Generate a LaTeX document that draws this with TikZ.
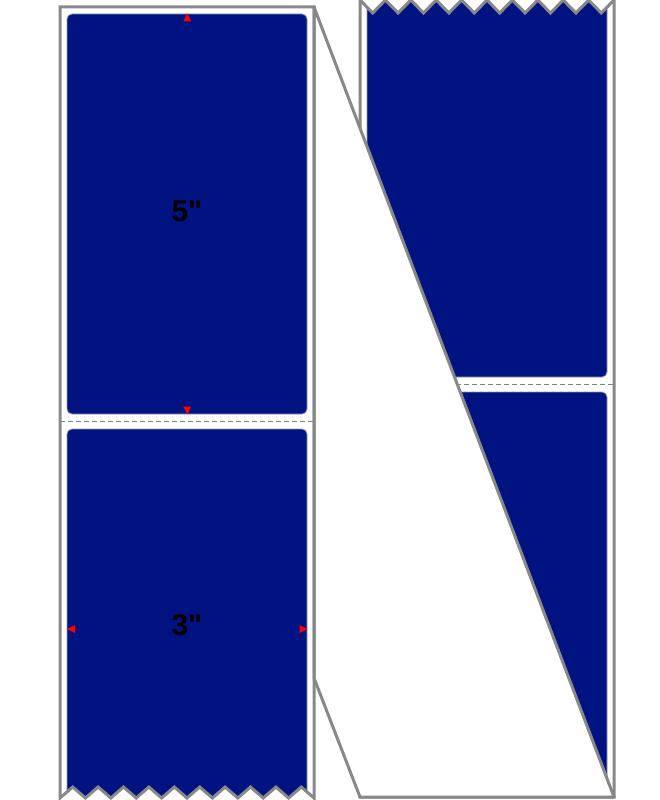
\documentclass[tikz,border=0pt]{standalone}
\usepackage{fontspec}
\setmainfont{Liberation Sans}
\newfontfamily\dimfont{Liberation Sans}
\definecolor{lblue}{RGB}{0,19,128}
\definecolor{liner}{RGB}{136,136,136}
\definecolor{edgegray}{RGB}{150,150,165}
\definecolor{perfgray}{RGB}{130,130,130}
\begin{document}
\begin{tikzpicture}[x=1pt,y=-1pt,
  labelbox/.style={fill=lblue,draw=edgegray,line width=0.8pt,rounded corners=5pt},
  border/.style={draw=liner,line width=3pt,line join=miter},
  perf/.style={draw=perfgray,line width=0.9pt,dash pattern=on 5pt off 3pt},
  tri/.style={fill=red},
  dim/.style={font=\dimfont\fontsize{30}{36}\selectfont\bfseries,inner sep=0pt,text=black}]
\useasboundingbox (0,0) rectangle (660,800);
\fill[white] (0,0) rectangle (660,800);
% ---- right (back) strip ----
\begin{scope}
  \clip (360,0) \foreach \i in {0,...,9} { -- ({372.7+25.4*\i},13) -- ({385.4+25.4*\i},0) } -- (614,800) -- (360,800) -- cycle;
  \path[labelbox] (367,-20) rectangle (607,377);
  \path[labelbox] (367,392) rectangle (607,792);
\end{scope}
\draw[perf] (360,384.5) -- (614,384.5);
\draw[border] (360,0) \foreach \i in {0,...,9} { -- ({372.7+25.4*\i},13) -- ({385.4+25.4*\i},0) } -- (614,797) -- (360,797) -- cycle;
% ---- folded liner ----
\draw[border,fill=white,line join=round] (314,7) -- (614,797) -- (360,797) -- (314,678) -- cycle;
% ---- left (front) strip ----
\begin{scope}
  \clip (60,0) -- (60,798) \foreach \i in {0,...,9} { -- ({72.7+25.4*\i},787) -- ({85.4+25.4*\i},798) } -- (314,0) -- cycle;
  \path[labelbox] (67,14) rectangle (307,414);
  \path[labelbox] (67,429) rectangle (307,829);
\end{scope}
\draw[perf] (60,421.5) -- (314,421.5);
\draw[border] (60,798) \foreach \i in {0,...,9} { -- ({72.7+25.4*\i},787) -- ({85.4+25.4*\i},798) } -- (314,7) -- (60,7) -- cycle;
% ---- dimension markers ----
\fill[tri] (187.3,13.5) -- (183.3,21.5) -- (191.3,21.5) -- cycle;
\fill[tri] (187.3,414.5) -- (183.3,406.5) -- (191.3,406.5) -- cycle;
\fill[tri] (67,629) -- (75,625) -- (75,633) -- cycle;
\fill[tri] (307.5,629) -- (299.5,625) -- (299.5,633) -- cycle;
\node[dim] (five) at (187,211) {5\symbol{34}};
\node[dim] (three) at (187,625.5) {3\symbol{34}};
\end{tikzpicture}
\end{document}
